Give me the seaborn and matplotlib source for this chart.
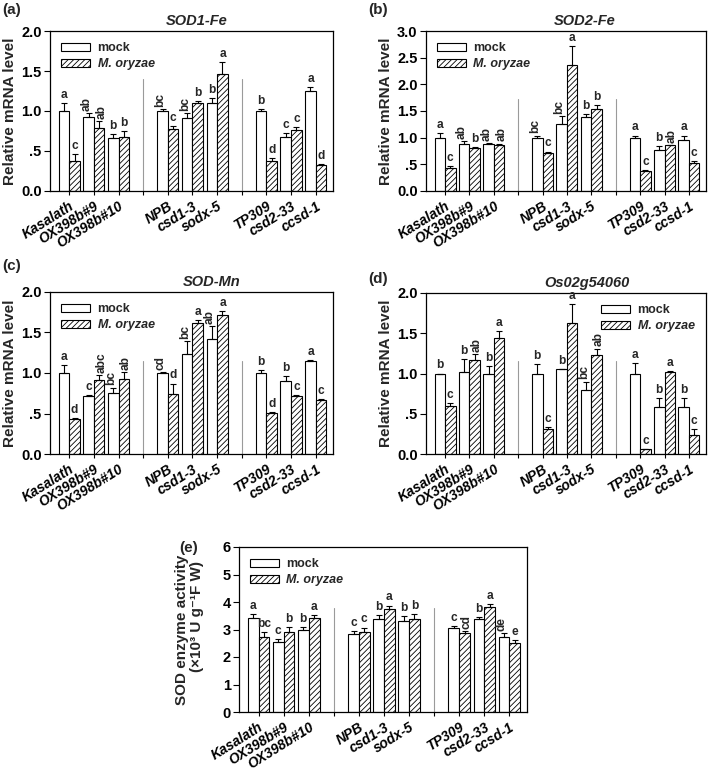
import matplotlib
matplotlib.use("Agg")
import matplotlib.pyplot as plt
import seaborn as sns
import pandas as pd
from matplotlib.patches import Patch
from matplotlib.ticker import FuncFormatter, MultipleLocator

# ---------------- data ----------------
lines = ["Kasalath", "OX398b#9", "OX398b#10", "NPB", "csd1-3", "sodx-5",
         "TP309", "csd2-33", "ccsd-1"]
treatments = ["mock", "M. oryzae"]

sod1_mock = [1.00, 0.92, 0.66, 1.00, 0.91, 1.10, 1.00, 0.68, 1.245]
sod1_mock_err = [0.10, 0.06, 0.05, 0.03, 0.06, 0.06, 0.02, 0.05, 0.05]
sod1_mo = [0.37, 0.79, 0.68, 0.775, 1.10, 1.46, 0.37, 0.76, 0.33]
sod1_mo_err = [0.09, 0.09, 0.07, 0.04, 0.03, 0.15, 0.04, 0.04, 0.01]
sod1_mock_let = ["a", "ab", "b", "bc", "bc", "b", "b", "c", "a"]
sod1_mo_let = ["c", "ab", "b", "c", "b", "a", "d", "c", "d"]

sod2_mock = [1.00, 0.89, 0.89, 1.00, 1.26, 1.39, 1.00, 0.775, 0.96]
sod2_mock_err = [0.08, 0.05, 0.01, 0.04, 0.14, 0.05, 0.04, 0.06, 0.08]
sod2_mo = [0.44, 0.80, 0.86, 0.71, 2.36, 1.54, 0.375, 0.86, 0.525]
sod2_mo_err = [0.03, 0.03, 0.03, 0.03, 0.36, 0.07, 0.01, 0.01, 0.04]
sod2_mock_let = ["a", "ab", "ab", "bc", "bc", "b", "a", "b", "a"]
sod2_mo_let = ["c", "b", "ab", "c", "a", "b", "c", "ab", "c"]

sodmn_mock = [1.00, 0.716, 0.75, 1.00, 1.24, 1.42, 1.00, 0.905, 1.15]
sodmn_mock_err = [0.10, 0.01, 0.07, 0.01, 0.15, 0.16, 0.04, 0.06, 0.005]
sodmn_mo = [0.436, 0.91, 0.92, 0.74, 1.62, 1.72, 0.51, 0.716, 0.667]
sodmn_mo_err = [0.005, 0.07, 0.09, 0.13, 0.03, 0.05, 0.01, 0.01, 0.01]
sodmn_mock_let = ["a", "c", "bc", "cd", "bc", "ab", "b", "b", "a"]
sodmn_mo_let = ["d", "abc", "ab", "d", "a", "a", "d", "c", "c"]

os_mock = [1.00, 1.02, 1.00, 1.00, 1.06, 0.80, 1.00, 0.58, 0.58]
os_mock_err = [0.0, 0.16, 0.09, 0.12, 0.0, 0.10, 0.13, 0.11, 0.11]
os_mo = [0.60, 1.17, 1.44, 0.31, 1.63, 1.23, 0.066, 1.02, 0.23]
os_mo_err = [0.03, 0.07, 0.09, 0.03, 0.23, 0.08, 0.0, 0.015, 0.08]
os_mock_let = ["b", "b", "b", "b", "b", "bc", "a", "b", "b"]
os_mo_let = ["c", "ab", "a", "c", "a", "ab", "c", "a", "c"]

act_mock = [3.42, 2.53, 3.00, 2.85, 3.37, 3.32, 3.05, 3.37, 2.72]
act_mock_err = [0.15, 0.12, 0.10, 0.10, 0.14, 0.17, 0.07, 0.07, 0.16]
act_mo = [2.73, 2.92, 3.41, 2.92, 3.73, 3.37, 2.88, 3.83, 2.51]
act_mo_err = [0.18, 0.18, 0.10, 0.15, 0.14, 0.20, 0.05, 0.10, 0.12]
act_mock_let = ["a", "c", "b", "c", "b", "b", "c", "b", "de"]
act_mo_let = ["bc", "b", "a", "c", "a", "b", "cd", "a", "e"]

# ---------------- style ----------------
sns.set_theme(style="white")
plt.rcParams["font.family"] = ["Liberation Sans", "DejaVu Sans"]
plt.rcParams["font.weight"] = "bold"
plt.rcParams["axes.labelweight"] = "bold"
plt.rcParams["hatch.linewidth"] = 0.6

HATCH = "//////"
order = lines[:3] + [""] + lines[3:6] + [" "] + lines[6:]

W, H = 709, 774
fig = plt.figure(figsize=(W / 100, H / 100), dpi=100)


def rect(l, t, r, b):
    return [l / W, 1 - b / H, (r - l) / W, (b - t) / H]


def mrna_fmt(v, _):
    if abs(v) < 1e-9:
        return "0.0"
    s = f"{v:.1f}"
    return s[1:] if s.startswith("0") else s


panels = [
    dict(tag="(a)", title="SOD1-Fe", tx=0.52, rect=rect(50, 31, 333, 191), lab=(2, 3),
         mock=sod1_mock, mock_err=sod1_mock_err, mo=sod1_mo, mo_err=sod1_mo_err,
         mock_let=sod1_mock_let, mo_let=sod1_mo_let, ymax=2.0, step=0.5,
         sep=0.70, legloc="upper left", ylabel="Relative mRNA level", horiz=set()),
    dict(tag="(b)", title="SOD2-Fe", tx=0.568, rect=rect(426, 31, 706, 191), lab=(368, 3),
         mock=sod2_mock, mock_err=sod2_mock_err, mo=sod2_mo, mo_err=sod2_mo_err,
         mock_let=sod2_mock_let, mo_let=sod2_mo_let, ymax=3.0, step=0.5,
         sep=0.575, legloc="upper left", ylabel="Relative mRNA level", horiz=set()),
    dict(tag="(c)", title="SOD-Mn", tx=0.57, rect=rect(50, 292, 333, 454), lab=(2, 259),
         mock=sodmn_mock, mock_err=sodmn_mock_err, mo=sodmn_mo, mo_err=sodmn_mo_err,
         mock_let=sodmn_mock_let, mo_let=sodmn_mo_let, ymax=2.0, step=0.5,
         sep=0.576, legloc="upper left", ylabel="Relative mRNA level", horiz=set()),
    dict(tag="(d)", title="Os02g54060", tx=0.575, rect=rect(426, 293, 706, 454), lab=(368, 272),
         mock=os_mock, mock_err=os_mock_err, mo=os_mo, mo_err=os_mo_err,
         mock_let=os_mock_let, mo_let=os_mo_let, ymax=2.0, step=0.5,
         sep=0.575, legloc="upper right", ylabel="Relative mRNA level", horiz=set()),
    dict(tag="(e)", title=None, tx=0.5, rect=rect(239, 547, 527, 712), lab=(179, 541),
         mock=act_mock, mock_err=act_mock_err, mo=act_mo, mo_err=act_mo_err,
         mock_let=act_mock_let, mo_let=act_mo_let, ymax=6.0, step=1.0,
         sep=0.63, legloc="upper left",
         ylabel=("SOD enzyme activity", "(×10³ U g⁻¹F W)"), horiz={(1, "Kasalath")}),
]

for p in panels:
    ax = fig.add_axes(p["rect"])
    df = pd.DataFrame({
        "line": lines * 2,
        "treatment": [treatments[0]] * 9 + [treatments[1]] * 9,
        "value": p["mock"] + p["mo"],
    })
    sns.barplot(data=df, x="line", y="value", hue="treatment", order=order,
                hue_order=treatments,
                palette={treatments[0]: "white", treatments[1]: "white"},
                saturation=1, edgecolor="black", linewidth=0.8, errorbar=None,
                width=0.86, legend=False, ax=ax)

    bar_conts = list(ax.containers)
    for k, cont in enumerate(bar_conts):
        errs = p["mock_err"] if k == 0 else p["mo_err"]
        lets = p["mock_let"] if k == 0 else p["mo_let"]
        for bar in cont:
            if bar is None:
                continue
            h = bar.get_height()
            if h != h:
                continue
            xc = bar.get_x() + bar.get_width() / 2
            name = order[int(round(xc))]
            i = lines.index(name)
            if k == 1:
                bar.set_hatch(HATCH)
            e = errs[i]
            ax.errorbar(xc, h, yerr=[[0], [e]], fmt="none", ecolor="black",
                        elinewidth=0.8, capsize=2.2, capthick=0.8, zorder=3)
            let = lets[i]
            rot = 90 if (len(let) > 1 and (k, name) not in p["horiz"]) else 0
            dx = 0 if rot == 0 else (-1.5 if k == 0 else 1.5)
            ax.annotate(let, (xc, h + e), xytext=(dx, 1.5), textcoords="offset points",
                        ha="center", va="bottom", rotation=rot, fontsize=8.6,
                        fontweight="bold")

    for xs in (3, 7):
        ax.axvline(xs, ymin=0, ymax=p["sep"], color="#9a9a9a", lw=0.8, zorder=0)

    ax.set_xlim(-0.78, 10.7)
    ax.set_ylim(0, p["ymax"])
    ax.yaxis.set_major_locator(MultipleLocator(p["step"]))
    if p["step"] < 1:
        ax.yaxis.set_major_formatter(FuncFormatter(mrna_fmt))
    else:
        ax.yaxis.set_major_formatter(FuncFormatter(lambda v, _: f"{int(round(v))}"))
    ax.set_xticks(range(len(order)))
    ax.set_xticklabels(order, rotation=32, ha="right", va="top",
                       rotation_mode="anchor", fontstyle="italic",
                       fontweight="bold", fontsize=10)
    ax.tick_params(axis="x", direction="out", length=3, width=0.8, pad=3,
                   bottom=True, colors="black")
    ax.tick_params(axis="y", direction="out", length=4, width=0.8, pad=2,
                   left=True, labelsize=10.5, colors="black")
    for lab in ax.get_yticklabels():
        lab.set_fontweight("bold")
    for s in ax.spines.values():
        s.set_color("black")
        s.set_linewidth(0.9)
    ax.set_xlabel("")
    if isinstance(p["ylabel"], tuple):
        ax.set_ylabel("")
        ax.text(-0.198, 0.5, p["ylabel"][0], transform=ax.transAxes, rotation=90,
                ha="center", va="center", fontsize=11, fontweight="bold")
        ax.text(-0.146, 0.58, p["ylabel"][1], transform=ax.transAxes, rotation=90,
                ha="center", va="center", fontsize=11, fontweight="bold")
    else:
        ax.set_ylabel(p["ylabel"], fontsize=11, fontweight="bold", labelpad=3)
    if p["title"]:
        ax.set_title(p["title"], fontsize=10.5, fontweight="bold",
                     fontstyle="italic", x=p["tx"], pad=4)

    handles = [Patch(facecolor="white", edgecolor="black", lw=0.8),
               Patch(facecolor="white", edgecolor="black", lw=0.8, hatch=HATCH)]
    leg = ax.legend(handles, treatments, loc=p["legloc"], frameon=False,
                    fontsize=9, handlelength=2.3, handleheight=0.6,
                    labelspacing=0.3, handletextpad=0.6, borderaxespad=0.5)
    for t in leg.get_texts():
        t.set_fontweight("bold")
    leg.get_texts()[1].set_fontstyle("italic")

    fig.text(p["lab"][0] / W, 1 - p["lab"][1] / H, p["tag"], ha="left", va="top",
             fontsize=11, fontweight="bold")

fig.savefig("out.png", dpi=100)
